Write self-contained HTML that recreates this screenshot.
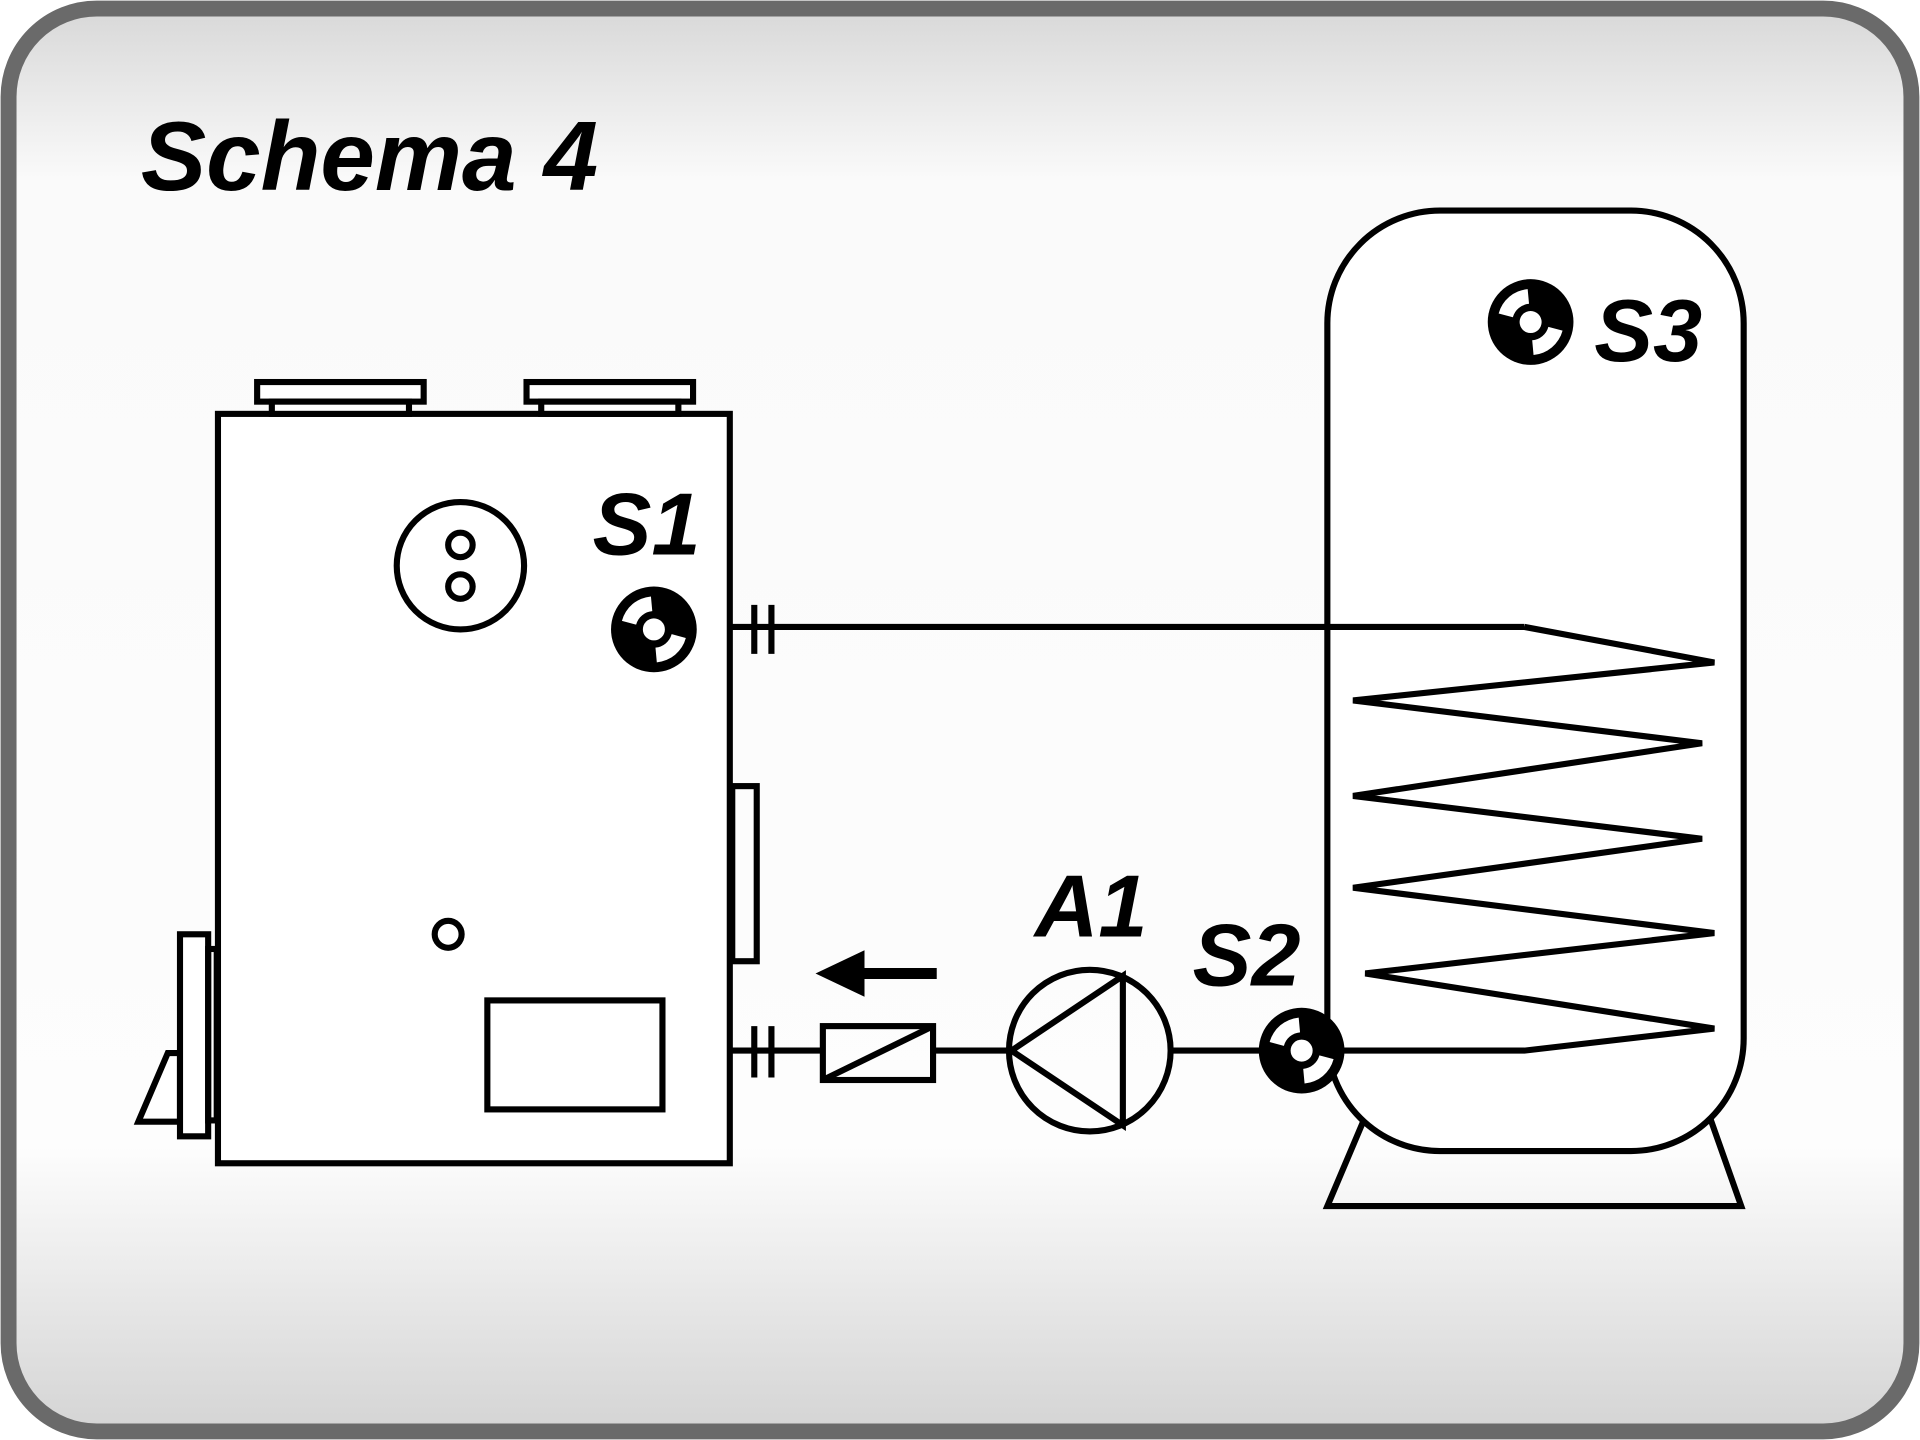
<!DOCTYPE html>
<html><head><style>html,body{margin:0;padding:0;width:1920px;height:1440px;overflow:hidden;background:#fff}</style></head>
<body>
<svg width="1920" height="1440" viewBox="0 0 1568 1176" xmlns="http://www.w3.org/2000/svg">
<defs>
<linearGradient id="bg" x1="0" y1="0" x2="0" y2="1">
<stop offset="0" stop-color="#d8d8d8"/><stop offset="0.12" stop-color="#fafafa"/><stop offset="0.8" stop-color="#fdfdfd"/><stop offset="1" stop-color="#d4d4d4"/>
</linearGradient>
<g id="sens">
<circle r="35" fill="#000"/>
<path d="M -26.1 -7 A 27 27 0 0 1 -2.4 -26.9 L -1.3 -14.9 A 15 15 0 0 0 -14.5 -3.9 Z" fill="#fff"/>
<path d="M 26.1 7 A 27 27 0 0 1 2.4 26.9 L 1.3 14.9 A 15 15 0 0 0 14.5 3.9 Z" fill="#fff"/>
<circle r="9" fill="#fff"/>
</g>
</defs>
<rect x="0" y="0" width="1568" height="1176" fill="#fff"/>
<rect x="7" y="7" width="1554" height="1162" rx="72" fill="url(#bg)" stroke="#6a6a6a" stroke-width="13"/>
<text x="115" y="155" font-family="Liberation Sans, sans-serif" font-weight="bold" font-style="italic" font-size="80">Schema 4</text>
<g fill="none" stroke="#000" stroke-width="5">
<rect x="178" y="338" width="418" height="612" fill="#fff"/>
<rect x="210" y="312" width="136" height="16" fill="#fff"/>
<rect x="222" y="328" width="112" height="10" fill="#fff"/>
<rect x="430" y="312" width="136" height="16" fill="#fff"/>
<rect x="442" y="328" width="112" height="10" fill="#fff"/>
<circle cx="376" cy="462" r="52"/>
<circle cx="376" cy="445" r="10"/>
<circle cx="376" cy="479" r="10"/>
<rect x="598" y="642" width="20" height="143"/>
<circle cx="366" cy="763" r="11"/>
<rect x="398" y="817" width="143" height="89"/>
<polygon points="113,916 137,860 147,860 147,916" fill="#fff"/>
<rect x="147" y="763" width="23" height="165" fill="#fff"/>
<rect x="170" y="775" width="7" height="140"/>
<polygon points="1120,900 1084,985 1422,985 1392,900"/>
<rect x="1084" y="172" width="340" height="768" rx="92" fill="#fff"/>
<line x1="596" y1="512" x2="1245" y2="512"/>
<polyline points="1245,512 1400,541 1105,572 1390,607 1105,650 1390,685 1105,725 1400,762 1115,795 1400,840 1245,858 1060,858"/>
<line x1="616" y1="494" x2="616" y2="534"/>
<line x1="630" y1="494" x2="630" y2="534"/>
<line x1="596" y1="858" x2="672" y2="858"/>
<line x1="616" y1="838" x2="616" y2="880"/>
<line x1="630" y1="838" x2="630" y2="880"/>
<rect x="672" y="838" width="90" height="44"/>
<line x1="672" y1="882" x2="762" y2="838"/>
<line x1="762" y1="858" x2="825" y2="858"/>
<circle cx="890" cy="858" r="66"/>
<polygon points="826,858 917,797 917,919"/>
<line x1="956" y1="858" x2="1030" y2="858"/>
<line x1="700" y1="795" x2="765" y2="795" stroke-width="9"/>
</g>
<polygon points="666,795 706,776 706,814" fill="#000"/>
<use href="#sens" x="534" y="514"/>
<use href="#sens" x="1063" y="858"/>
<use href="#sens" x="1250" y="263"/>
<g font-family="Liberation Sans, sans-serif" font-weight="bold" font-style="italic" font-size="72" fill="#000">
<text x="484" y="453">S1</text>
<text x="845" y="765">A1</text>
<text x="974" y="805">S2</text>
<text x="1302" y="295">S3</text>
</g>
</svg>
</body></html>
